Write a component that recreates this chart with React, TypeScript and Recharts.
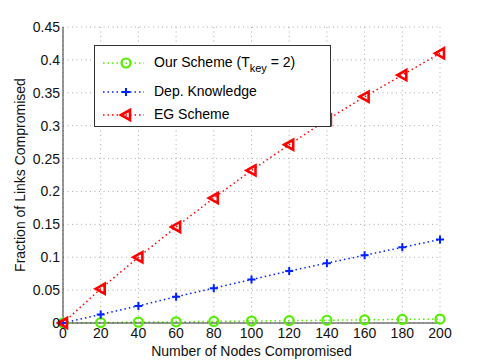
import React from 'react';
import { CartesianGrid, Legend, Line, LineChart, XAxis, YAxis } from 'recharts';

const nodes = [0, 20, 40, 60, 80, 100, 120, 140, 160, 180, 200];
const ourScheme = [0, 0.0006, 0.0012, 0.0018, 0.0024, 0.003, 0.0036, 0.0042, 0.0048, 0.0054, 0.006];
const depKnowledge = [0, 0.013, 0.026, 0.04, 0.053, 0.066, 0.079, 0.091, 0.103, 0.115, 0.127];
const egScheme = [0, 0.052, 0.1, 0.146, 0.19, 0.232, 0.271, 0.309, 0.344, 0.377, 0.41];

const xTicks = [0, 20, 40, 60, 80, 100, 120, 140, 160, 180, 200];
const yTicks = [0, 0.05, 0.1, 0.15, 0.2, 0.25, 0.3, 0.35, 0.4, 0.45];

const data = nodes.map((n, i) => ({ n, our: ourScheme[i], dep: depKnowledge[i], eg: egScheme[i] }));

const GREEN = '#55ee00';
const BLUE = '#0022ff';
const RED = '#ff0000';
const AXIS = '#333';
const FONT = '"Liberation Sans", Arial, sans-serif';

const CircleDot = (props: any) => {
  const { cx, cy } = props;
  if (cx == null || cy == null) return null;
  return <circle cx={cx} cy={cy} r={4.5} fill="none" stroke={GREEN} strokeWidth={2.2} />;
};

const PlusDot = (props: any) => {
  const { cx, cy } = props;
  if (cx == null || cy == null) return null;
  return <path d={`M${cx - 4},${cy}H${cx + 4}M${cx},${cy - 4}V${cy + 4}`} stroke={BLUE} strokeWidth={2} fill="none" />;
};

const TriDot = (props: any) => {
  const { cx, cy } = props;
  if (cx == null || cy == null) return null;
  return (
    <path
      d={`M${cx - 5},${cy}L${cx + 4},${cy - 5}L${cx + 4},${cy + 5}Z`}
      stroke={RED}
      strokeWidth={2.6}
      strokeLinejoin="miter"
      fill="none"
    />
  );
};

const Sample = ({ color, marker }: { color: string; marker: string }) => (
  <svg width={52} height={16} style={{ position: 'absolute', left: 0, top: 0 }}>
    <line x1={8} x2={49} y1={8} y2={8} stroke={color} strokeWidth={1.5} strokeDasharray="1.5 3" />
    {marker === 'o' && <circle cx={31} cy={8} r={4.5} fill="none" stroke={color} strokeWidth={2.2} />}
    {marker === '+' && <path d="M27,8H35M31,4V12" stroke={color} strokeWidth={2} />}
    {marker === '<' && <path d="M26,8L35,3L35,13Z" stroke={color} strokeWidth={2.6} fill="none" />}
  </svg>
);

const LegendBox = () => (
  <div
    style={{
      position: 'relative',
      width: 237,
      height: 82,
      border: `1px solid ${AXIS}`,
      background: '#fff',
      boxSizing: 'border-box',
      fontFamily: FONT,
      fontSize: 14,
      color: '#000',
    }}
  >
    <div style={{ position: 'absolute', left: 0, top: 9, height: 16, width: 235 }}>
      <Sample color={GREEN} marker="o" />
      <span style={{ position: 'absolute', left: 59, top: -1, whiteSpace: 'nowrap' }}>
        Our Scheme (T<sub style={{ fontSize: 11, verticalAlign: -5 }}>key</sub> = 2)
      </span>
    </div>
    <div style={{ position: 'absolute', left: 0, top: 38, height: 16, width: 235 }}>
      <Sample color={BLUE} marker="+" />
      <span style={{ position: 'absolute', left: 59, top: -1, whiteSpace: 'nowrap' }}>Dep. Knowledge</span>
    </div>
    <div style={{ position: 'absolute', left: 0, top: 61, height: 16, width: 235 }}>
      <Sample color={RED} marker="<" />
      <span style={{ position: 'absolute', left: 59, top: -1, whiteSpace: 'nowrap' }}>EG Scheme</span>
    </div>
  </div>
);

const XLabel = (props: any) => {
  const { viewBox } = props;
  return (
    <text
      x={viewBox.x + viewBox.width / 2}
      y={viewBox.y + 33}
      textAnchor="middle"
      fontSize={14}
      fontFamily={FONT}
      fill="#111"
    >
      Number of Nodes Compromised
    </text>
  );
};

const YLabel = (props: any) => {
  const { viewBox } = props;
  const x = viewBox.x + 25;
  const y = viewBox.y + viewBox.height / 2;
  return (
    <text x={x} y={y} transform={`rotate(-90, ${x}, ${y})`} textAnchor="middle" fontSize={14} fontFamily={FONT} fill="#111">
      Fraction of Links Compromised
    </text>
  );
};

export default function App() {
  const tickStyle = { fill: '#111', fontSize: 14, fontFamily: FONT };
  return (
    <div style={{ position: 'absolute', left: 0, top: 0, width: 485, height: 364, background: '#fff' }}>
      <LineChart width={485} height={364} data={data} margin={{ top: 27, right: 45, bottom: 0, left: 0 }}>
        <CartesianGrid stroke="#aaa" strokeDasharray="1 3.5" />
        <XAxis
          dataKey="n"
          type="number"
          domain={[0, 200]}
          ticks={xTicks}
          height={41}
          tickLine={false}
          tickSize={0}
          tickMargin={5}
          stroke={AXIS}
          tick={tickStyle}
          interval={0}
          label={<XLabel />}
        />
        <XAxis
          xAxisId="bottomTicks"
          dataKey="n"
          type="number"
          domain={[0, 200]}
          ticks={xTicks}
          height={0}
          mirror
          tick={false}
          tickSize={5}
          stroke={AXIS}
        />
        <XAxis
          xAxisId="top"
          orientation="top"
          dataKey="n"
          type="number"
          domain={[0, 200]}
          ticks={xTicks}
          height={0}
          mirror
          tick={false}
          tickSize={5}
          stroke={AXIS}
        />
        <YAxis
          type="number"
          domain={[0, 0.45]}
          ticks={yTicks}
          width={63}
          tickLine={false}
          tickSize={0}
          tickMargin={3}
          stroke={AXIS}
          tick={tickStyle}
          interval={0}
          label={<YLabel />}
        />
        <YAxis
          yAxisId="leftTicks"
          type="number"
          domain={[0, 0.45]}
          ticks={yTicks}
          width={0}
          mirror
          tick={false}
          tickSize={5}
          stroke={AXIS}
        />
        <YAxis
          yAxisId="right"
          orientation="right"
          type="number"
          domain={[0, 0.45]}
          ticks={yTicks}
          width={0}
          mirror
          tick={false}
          tickSize={5}
          stroke={AXIS}
        />
        <Legend
          layout="vertical"
          align="center"
          verticalAlign="middle"
          content={<LegendBox />}
          wrapperStyle={{ left: 94, top: 45, width: 237, height: 82 }}
        />
        <Line
          type="linear"
          dataKey="our"
          stroke={GREEN}
          strokeWidth={1.5}
          strokeDasharray="1.5 3"
          dot={<CircleDot />}
          activeDot={false}
          isAnimationActive={false}
        />
        <Line
          type="linear"
          dataKey="dep"
          stroke={BLUE}
          strokeWidth={1.5}
          strokeDasharray="1.5 3"
          dot={<PlusDot />}
          activeDot={false}
          isAnimationActive={false}
        />
        <Line
          type="linear"
          dataKey="eg"
          stroke={RED}
          strokeWidth={1.5}
          strokeDasharray="1.5 3"
          dot={<TriDot />}
          activeDot={false}
          isAnimationActive={false}
        />
      </LineChart>
    </div>
  );
}
